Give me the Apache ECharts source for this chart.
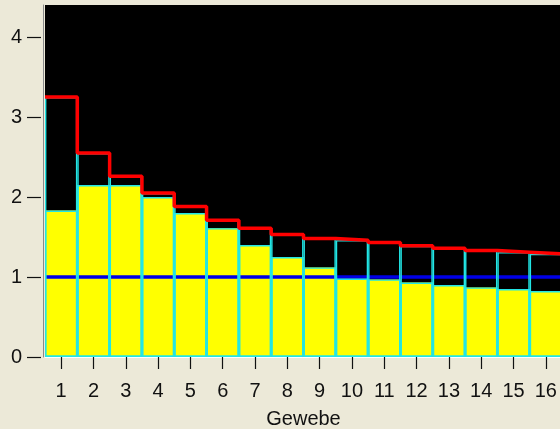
<!DOCTYPE html>
<html>
<head>
<meta charset="utf-8">
<script src="https://cdn.jsdelivr.net/npm/echarts@6/dist/echarts.min.js"></script>
<style>
html,body{margin:0;padding:0;background:#ECE9D8;}
#c{width:560px;height:429px;}
</style>
</head>
<body>
<div id="c"></div>
<script>
var categories = ['1','2','3','4','5','6','7','8','9','10','11','12','13','14','15','16'];
var outerValues = [3.25, 2.55, 2.26, 2.05, 1.88, 1.71, 1.61, 1.53, 1.48, 1.46, 1.43, 1.39, 1.36, 1.33, 1.31, 1.29];
var innerValues = [1.83, 2.15, 2.15, 2.00, 1.80, 1.61, 1.40, 1.25, 1.12, 0.98, 0.97, 0.93, 0.90, 0.87, 0.85, 0.825];
var referenceValue = 1;
var yTicks = [0, 1, 2, 3, 4];
var xName = 'Gewebe';

var FONT = 'Liberation Sans';
var FS = 20;

// step line points at left edges of each category band
var stepData = outerValues.map(function (v, i) { return [i + 0.5, v]; });
stepData.push([outerValues.length + 0.5, outerValues[outerValues.length - 1]]);
var refData = [[0.5, referenceValue], [categories.length + 0.5, referenceValue]];

var chart = echarts.init(document.getElementById('c'), null, {renderer: 'canvas'});
chart.setOption({
  backgroundColor: '#ECE9D8',
  animation: false,
  grid: {left: 45, top: 5, width: 517, height: 352, backgroundColor: '#000000', show: true, borderWidth: 0,
         containLabel: false, outerBoundsMode: 'none'},
  xAxis: [
    {type: 'category', data: categories, gridIndex: 0, position: 'bottom', offset: 0,
     axisLine: {show: true, lineStyle: {color: '#FFFFFF', width: 1}},
     axisTick: {show: false}, axisLabel: {show: false}, splitLine: {show: false}},
    {type: 'category', data: categories, gridIndex: 0, position: 'bottom', offset: 4,
     axisLine: {show: false},
     axisTick: {show: true, alignWithLabel: true, length: 12, lineStyle: {color: '#111111', width: 1.2}},
     axisLabel: {show: true, interval: 0, margin: 20, color: '#111111', fontFamily: FONT, fontSize: FS},
     name: xName, nameLocation: 'middle', nameGap: 48,
     nameTextStyle: {color: '#111111', fontFamily: FONT, fontSize: FS},
     splitLine: {show: false}},
    {type: 'value', gridIndex: 0, min: 0.5, max: categories.length + 0.5, show: false}
  ],
  yAxis: [
    {type: 'value', position: 'left', min: 0, max: 4.4, interval: 1, offset: 2,
     axisLine: {show: true, lineStyle: {color: '#8a8a8a', width: 1}},
     axisTick: {show: false}, axisLabel: {show: false}, splitLine: {show: false}},
    {type: 'value', position: 'left', min: 0, max: 4.4, interval: 1, offset: 4,
     axisLine: {show: false},
     axisTick: {show: true, length: 14, customValues: yTicks, lineStyle: {color: '#111111', width: 1.2}},
     axisLabel: {show: true, margin: 19, customValues: yTicks, color: '#111111', fontFamily: FONT, fontSize: FS},
     splitLine: {show: false}}
  ],
  series: [
    {type: 'bar', xAxisIndex: 0, yAxisIndex: 0, data: outerValues, barWidth: '100%', barGap: '-100%', z: 1,
     itemStyle: {color: '#000000', borderWidth: 0}, silent: true},
    {type: 'bar', xAxisIndex: 0, yAxisIndex: 0, data: innerValues, barWidth: '100%', barGap: '-100%', z: 2,
     itemStyle: {color: '#FFFF00', borderWidth: 0}, silent: true},
    {type: 'line', xAxisIndex: 2, yAxisIndex: 0, data: refData, symbol: 'none', z: 3,
     lineStyle: {color: '#0000E6', width: 3.5}, silent: true},
    {type: 'bar', xAxisIndex: 0, yAxisIndex: 0, data: outerValues, barWidth: '100%', barGap: '-100%', z: 4,
     itemStyle: {color: 'rgba(0,0,0,0)', borderColor: '#22E6E6', borderWidth: 1.4}, silent: true},
    {type: 'bar', xAxisIndex: 0, yAxisIndex: 0, data: innerValues, barWidth: '100%', barGap: '-100%', z: 4,
     itemStyle: {color: 'rgba(0,0,0,0)', borderColor: '#22E6E6', borderWidth: 1.4}, silent: true},
    {type: 'line', xAxisIndex: 2, yAxisIndex: 0, data: stepData, step: 'end', symbol: 'none', z: 5,
     lineStyle: {color: '#FF0000', width: 3.5}, silent: true}
  ]
});
</script>
</body>
</html>
